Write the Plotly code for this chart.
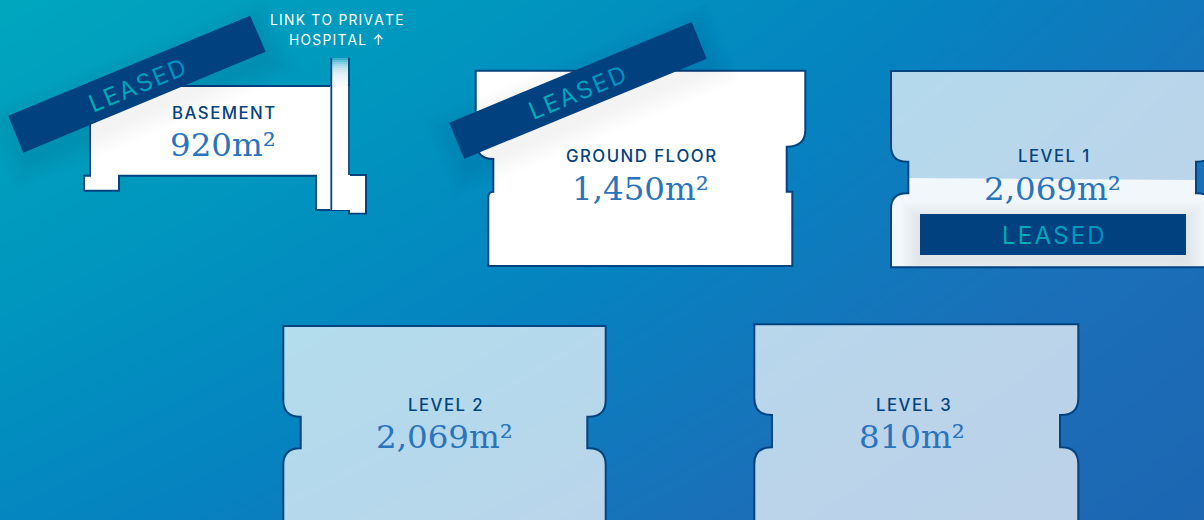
import plotly.graph_objects as go

# ---- content ----
floor_names = ["BASEMENT", "GROUND FLOOR", "LEVEL 1", "LEVEL 2", "LEVEL 3"]
floor_areas = ["920m²", "1,450m²", "2,069m²", "2,069m²", "810m²"]
name_x = [223.5, 641, 1053, 445, 913]
name_y = [112.5, 155.5, 155.5, 404.5, 404.5]
area_x = [223, 640, 1052, 444, 912]
area_y = [144.5, 188.5, 188.5, 436.5, 436.5]
link_lines = ["LINK TO PRIVATE", "HOSPITAL ↑"]
link_y = [20, 40]
lease_text = "LEASED"
lease_letters = ["#00aeb6", "#00aab8", "#00a5ba", "#009fbc", "#0099be", "#0093c0"]
lease_x = [137, 577.5, 1053]
lease_y = [85.5, 92, 235]
lease_angle = [-22.5, -22.5, 0]
lease_size = [24, 24, 24]

# ---- colours ----
NAVY = "#03437f"
BAND = "#01417f"
AREA = "#2a74bc"
bg_scale = [[0, "#00a6be"], [0.3, "#0096be"], [0.55, "#0583c0"], [0.8, "#1b6fb9"], [1, "#1c66b2"]]

# background gradient position at the four page corners
bg_x = [0, 1204]
bg_y = [0, 520]
bg_z = [[0.0, 0.7], [0.5, 1.0]]

# ---- geometry ----
band_a = [[250, 15.7], [265.7, 51.7], [23.3, 152.7], [8.3, 115.7]]
band_b = [[691.7, 22], [706.7, 58.7], [464.3, 158.7], [449.3, 122.7]]
basement_outline = [(90, 86), (331.3, 86), (349, 86), (349, 175), (366, 175), (366, 213.5), (349, 213.5),
                    (349, 210), (316, 210), (316, 175.7), (119, 175.7), (119, 190.7), (84, 190.7), (84, 175.7), (90, 175.7)]
ground_path = ("M475.7,70.7 H805.3 V130 Q805.3,146.7 786.7,146.7 V191.7 H792.3 V266 H488.3 V197 "
               "Q488.3,191.7 493.3,191.7 V159 Q475.7,159 475.7,140 Z")
plate_lv1 = dict(l=891, r=1213, nl=908.3, nr=1196, top=71, y0=146, y1=161.7, y2=193.3, y3=209, bot=267.3)
plate_lv2 = dict(l=283.3, r=605.7, nl=300.7, nr=587.3, top=326, y0=400, y1=416.7, y2=448.3, y3=465, bot=540)
plate_lv3 = dict(l=754.3, r=1078.3, nl=772, nr=1060, top=324.3, y0=398, y1=415, y2=447.3, y3=464, bot=540)
lease_box = [920, 1186, 214, 255]


def plate_path(p):
    r = p["y1"] - p["y0"]
    return (f"M{p['l']},{p['top']} H{p['r']} V{p['y0']} Q{p['r']},{p['y1']} {p['r']-r},{p['y1']} H{p['nr']} V{p['y2']} "
            f"H{p['r']-r} Q{p['r']},{p['y2']} {p['r']},{p['y3']} V{p['bot']} H{p['l']} V{p['y3']} "
            f"Q{p['l']},{p['y2']} {p['l']+r},{p['y2']} H{p['nl']} V{p['y1']} H{p['l']+r} Q{p['l']},{p['y1']} {p['l']},{p['y0']} Z")


def poly_path(pts):
    return "M" + " L".join(f"{x},{y}" for x, y in pts) + " Z"


def shape(path, fill="rgba(0,0,0,0)", line=None, width=0):
    return dict(type="path", xref="x", yref="y", path=path, fillcolor=fill, layer="above",
                line=dict(color=line or "rgba(0,0,0,0)", width=width))


shapes = []

# basement plate + link strip
shapes.append(shape(poly_path(basement_outline), "#ffffff", NAVY, 2))
for i in range(14):
    top = 58 + i * 2
    shapes.append(dict(type="rect", xref="x", yref="y", x0=332, x1=348, y0=top, y1=88, layer="above",
                       fillcolor="rgba(255,255,255,0.22)", line=dict(width=0)))
shapes.append(dict(type="rect", xref="x", yref="y", x0=330, x1=350, y0=86, y1=210, layer="above",
                   fillcolor="#ffffff", line=dict(width=0)))
shapes.append(dict(type="rect", xref="x", yref="y", x0=350, x1=365, y0=176, y1=212.5, layer="above",
                   fillcolor="#ffffff", line=dict(width=0)))
for sx, y0, y1 in [(331.3, 58, 210), (349, 58, 175)]:
    shapes.append(dict(type="line", xref="x", yref="y", x0=sx, x1=sx, y0=y0, y1=y1, layer="above",
                       line=dict(color=NAVY, width=1.8)))

# ground floor plate
shapes.append(shape(ground_path, "#ffffff", NAVY, 2))

# upper level plates
for p in [plate_lv1, plate_lv2, plate_lv3]:
    shapes.append(shape(plate_path(p), "rgba(255,255,255,0.7)", None, 0))

# level 1 light lower section
p = plate_lv1
r = p["y1"] - p["y0"]
shapes.append(shape(f"M{p['nl']},178 L{p['nr']},180 V{p['y2']} H{p['r']-r} Q{p['r']},{p['y2']} {p['r']},{p['y3']} V{p['bot']} H{p['l']} V{p['y3']} "
                    f"Q{p['l']},{p['y2']} {p['l']+r},{p['y2']} H{p['nl']} Z", "rgba(255,255,255,0.8)"))
# level 1 box shadow
for d in range(2, 20, 2):
    shapes.append(dict(type="rect", xref="x", yref="y", x0=lease_box[0] - d, x1=lease_box[1] + d,
                       y0=max(lease_box[2] - d + 6, 196), y1=min(lease_box[3] + d + 6, 266), layer="above",
                       fillcolor="rgba(0,10,40,0.007)", line=dict(width=0)))

# outlines of level plates
for p in [plate_lv1, plate_lv2, plate_lv3]:
    shapes.append(shape(plate_path(p), "rgba(0,0,0,0)", NAVY, 2))

# diagonal band shadows
nx, ny = 0.383, 0.924
ux, uy = 0.924, -0.383
for band in [band_a, band_b]:
    for d in range(2, 26, 2):
        off = 10
        sgn = [(1, -1), (1, 1), (-1, 1), (-1, -1)]
        pts = [(x + nx * off + sx * ux * d + sy * nx * d, y + ny * off + sx * uy * d + sy * ny * d)
               for (x, y), (sx, sy) in zip(band, sgn)]
        shapes.append(shape(poly_path(pts), "rgba(0,0,0,0.0045)"))
    shapes.append(shape(poly_path(band), BAND))

# level 1 lease box
shapes.append(dict(type="rect", xref="x", yref="y", x0=lease_box[0], x1=lease_box[1], y0=lease_box[2], y1=lease_box[3],
                   layer="above", fillcolor=BAND, line=dict(width=0)))

HAIR = "\u200a"
SANS = "Inter, 'Noto Sans', sans-serif"
SERIF = "'DejaVu Serif', serif"


def spaced(s, n=1):
    return (HAIR * n).join(s)


ann = []
for n, x, y in zip(floor_names, name_x, name_y):
    ann.append(dict(x=x, y=y, text=spaced(n), font=dict(family=SANS, size=16.8, color=NAVY, weight=500)))
for a, x, y in zip(floor_areas, area_x, area_y):
    ann.append(dict(x=x, y=y, text=a, font=dict(family=SERIF, size=32.5, color=AREA)))
for t, y in zip(link_lines, link_y):
    ann.append(dict(x=336.5, y=y, text=spaced(t), font=dict(family=SANS, size=13.8, color="#ffffff")))
lease_html = HAIR.join(f'<span style="color:{c}">{ch}</span>' for ch, c in zip(lease_text, lease_letters))
for x, y, ang, sz in zip(lease_x, lease_y, lease_angle, lease_size):
    ann.append(dict(x=x, y=y, text=lease_html, textangle=ang, font=dict(family=SANS, size=sz, color="#00a2b6")))
for a in ann:
    a.update(xref="x", yref="y", showarrow=False, xanchor="center", yanchor="middle")

fig = go.Figure(go.Heatmap(x=bg_x, y=bg_y, z=bg_z, zsmooth="best", colorscale=bg_scale, zmin=0, zmax=1,
                           showscale=False, hoverinfo="skip"))
fig.update_layout(width=1204, height=520, margin=dict(l=0, r=0, t=0, b=0), paper_bgcolor="#0583c0",
                  plot_bgcolor="#0583c0", shapes=shapes, annotations=ann, showlegend=False,
                  xaxis=dict(range=[0, 1204], visible=False, fixedrange=True),
                  yaxis=dict(range=[520, 0], visible=False, fixedrange=True))
fig.write_html("out.html", config=dict(displayModeBar=False),
               post_script="document.body.style.margin='0';document.documentElement.style.overflow='hidden';")
